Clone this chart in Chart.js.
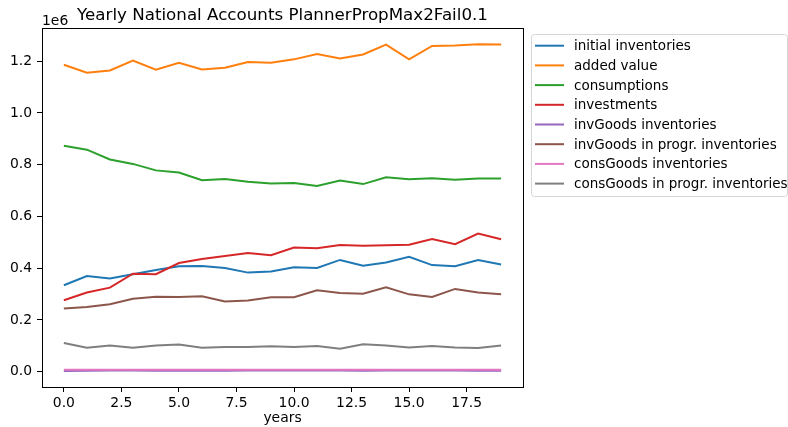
<!DOCTYPE html>
<html>
<head>
<meta charset="utf-8">
<script src="https://cdn.jsdelivr.net/npm/chart.js@4/dist/chart.umd.min.js"></script>
<style>
  body { margin: 0; background: #fff; }
  canvas { display: block; }
</style>
</head>
<body>
<canvas id="myChart" width="788" height="427"></canvas>
<script>
const years = [0, 1, 2, 3, 4, 5, 6, 7, 8, 9, 10, 11, 12, 13, 14, 15, 16, 17, 18, 19];

const initialInventories = [334000, 370000, 360000, 377000, 393000, 408000, 409000, 401000, 383000, 387000, 404000, 401000, 432000, 410000, 422000, 444000, 412000, 408000, 432000, 414000];
const addedValue = [1186000, 1155000, 1164000, 1202000, 1167000, 1194000, 1168000, 1175000, 1197000, 1194000, 1207000, 1228000, 1210000, 1226000, 1264000, 1207000, 1259000, 1261000, 1265000, 1264000];
const consumptions = [873000, 858000, 820000, 803000, 778000, 770000, 740000, 745000, 734000, 727000, 729000, 718000, 739000, 725000, 751000, 744000, 748000, 742000, 747000, 747000];
const investments = [276000, 306000, 325000, 379000, 377000, 420000, 436000, 447000, 459000, 450000, 480000, 477000, 490000, 487000, 489000, 491000, 513000, 493000, 534000, 512000];
const invGoodsInventories = [3000, 4000, 5000, 5000, 4000, 4000, 4000, 4000, 5000, 5000, 5000, 5000, 5000, 4000, 5000, 5000, 5000, 5000, 4000, 4000];
const invGoodsInProgr = [244000, 250000, 261000, 282000, 290000, 289000, 292000, 271000, 275000, 288000, 288000, 315000, 304000, 301000, 326000, 299000, 289000, 320000, 306000, 299000];
const consGoodsInventories = [8000, 8000, 8000, 8000, 8000, 8000, 8000, 8000, 8000, 8000, 8000, 8000, 8000, 8000, 8000, 8000, 8000, 8000, 8000, 8000];
const consGoodsInProgr = [111000, 93000, 101000, 93000, 101000, 105000, 93000, 96000, 96000, 98000, 96000, 99000, 89000, 106000, 101000, 94000, 99000, 94000, 92000, 101000];

const seriesNames = [
  'initial inventories',
  'added value',
  'consumptions',
  'investments',
  'invGoods inventories',
  'invGoods in progr. inventories',
  'consGoods inventories',
  'consGoods in progr. inventories',
];
const seriesValues = [
  initialInventories, addedValue, consumptions, investments,
  invGoodsInventories, invGoodsInProgr, consGoodsInventories, consGoodsInProgr,
];
const colors = ['#1f77b4', '#ff7f0e', '#2ca02c', '#d62728', '#9467bd', '#8c564b', '#e377c2', '#7f7f7f'];

const xTicks = [0, 2.5, 5, 7.5, 10, 12.5, 15, 17.5];
const yTicks = [0, 0.2, 0.4, 0.6, 0.8, 1.0, 1.2];

const font = 'DejaVu Sans';

// matplotlib-like extras: full box frame, "1e6" offset text and outside legend
const extras = {
  id: 'extras',
  afterDraw(chart) {
    const { ctx, chartArea: a } = chart;
    ctx.save();
    ctx.strokeStyle = '#000';
    ctx.lineWidth = 1;
    ctx.strokeRect(Math.round(a.left) + 0.5, Math.round(a.top) + 0.5,
      Math.round(a.right - a.left), Math.round(a.bottom - a.top));

    ctx.fillStyle = '#000';
    ctx.font = `13.9px "${font}"`;
    ctx.textAlign = 'left';
    ctx.textBaseline = 'alphabetic';
    ctx.fillText('1e6', a.left, a.top - 3);

    // legend
    const lx = 531, ly = 34.5, lw = 256, lh = 162;
    ctx.beginPath();
    ctx.roundRect(lx + 0.5, ly, lw, lh, 3);
    ctx.fillStyle = 'rgba(255,255,255,0.8)';
    ctx.fill();
    ctx.strokeStyle = '#d6d6d6';
    ctx.stroke();
    ctx.font = `13.5px "${font}"`;
    ctx.textBaseline = 'middle';
    chart.data.datasets.forEach((ds, i) => {
      const y = 45.7 + i * 19.7;
      ctx.beginPath();
      ctx.moveTo(535, y);
      ctx.lineTo(564, y);
      ctx.strokeStyle = ds.borderColor;
      ctx.lineWidth = 2;
      ctx.stroke();
      ctx.fillStyle = '#000';
      ctx.fillText(ds.label, 574, y + 1);
    });
    ctx.restore();
  },
};

new Chart(document.getElementById('myChart'), {
  type: 'line',
  data: {
    datasets: seriesNames.map((name, i) => ({
      label: name,
      data: years.map((yr, j) => ({ x: yr, y: seriesValues[i][j] })),
      borderColor: colors[i],
      backgroundColor: colors[i],
      borderWidth: 2,
      pointRadius: 0,
      tension: 0,
      order: -i,
    })),
  },
  options: {
    responsive: false,
    animation: false,
    devicePixelRatio: 1,
    layout: { padding: { left: 0, right: 265, top: 0, bottom: 0 } },
    plugins: {
      legend: { display: false },
      tooltip: { enabled: false },
      title: {
        display: true,
        fullSize: false,
        text: 'Yearly National Accounts PlannerPropMax2Fail0.1',
        color: '#000',
        font: { family: font, size: 16.7, weight: 'normal' },
        padding: { top: 6, bottom: 2 },
      },
    },
    scales: {
      x: {
        type: 'linear',
        min: -0.95,
        max: 19.95,
        afterBuildTicks: (scale) => { scale.ticks = xTicks.map((v) => ({ value: v })); },
        afterFit: (scale) => { scale.height = 40; },
        grid: { drawOnChartArea: false, drawTicks: true, tickLength: 5, tickColor: '#000' },
        border: { display: true, color: '#000' },
        ticks: {
          color: '#000',
          font: { family: font, size: 13.9 },
          padding: 3,
          maxRotation: 0,
          callback: (v) => v.toFixed(1),
        },
        title: {
          display: true,
          text: 'years',
          color: '#000',
          font: { family: font, size: 13.9 },
          padding: { top: 0, bottom: 0 },
        },
      },
      y: {
        min: -59000,
        max: 1328000,
        afterBuildTicks: (scale) => { scale.ticks = yTicks.map((v) => ({ value: v * 1e6 })); },
        afterFit: (scale) => { scale.width = 42; },
        grid: { drawOnChartArea: false, drawTicks: true, tickLength: 5, tickColor: '#000' },
        border: { display: true, color: '#000' },
        ticks: {
          color: '#000',
          font: { family: font, size: 13.9 },
          padding: 5,
          callback: (v) => (v / 1e6).toFixed(1),
        },
      },
    },
  },
  plugins: [extras],
});
</script>
</body>
</html>
